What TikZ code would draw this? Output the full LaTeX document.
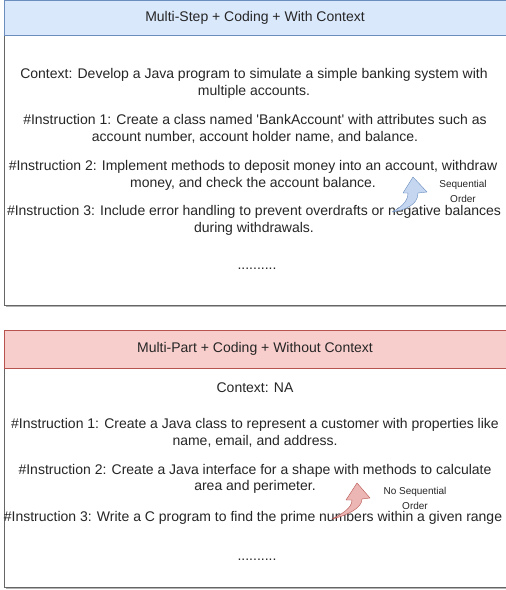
\documentclass[tikz,border=0pt]{standalone}
\usepackage{fontspec}
\setmainfont{Liberation Sans}
\definecolor{hdrblue}{HTML}{DAE8FC}
\definecolor{lineblue}{HTML}{6C8EBF}
\definecolor{hdrred}{HTML}{F8CECC}
\definecolor{linered}{HTML}{B85450}
\definecolor{boxgray}{HTML}{666666}
\begin{document}
\begin{tikzpicture}[x=1pt,y=-1pt,
  body/.style={font=\fontsize{14}{16.5}\selectfont, align=center, text=black!85, inner sep=0pt},
  side/.style={font=\fontsize{10}{14.5}\selectfont, align=center, text=black!85, inner sep=0pt},
  shade/.style={fill=black!30, draw=none}]
  \useasboundingbox (0,0) rectangle (506,590);
  \clip (0,0) rectangle (506,590);

  % Top box
  \fill[shade] (6,37) rectangle (512,307);
  \draw[boxgray, fill=white] (4,35) rectangle (510,305);
  \draw[lineblue, fill=hdrblue] (4,0.5) rectangle (510,35);
  \node[body] (hdrA) at (255,17.5) {Multi-Step + Coding + With Context};

  \node[body] (ctxA) at (254,83.5) {Context: Develop a Java program to simulate a simple banking system with\\multiple accounts.};
  \node[body] (insA1) at (255,129) {\#Instruction 1: Create a class named \textquotesingle BankAccount\textquotesingle{} with attributes such as\\account number, account holder name, and balance.};
  \node[body] (insA2) at (253,175.5) {\#Instruction 2: Implement methods to deposit money into an account, withdraw\\money, and check the account balance.};
  \node[body] (insA3) at (254,220.5) {\#Instruction 3: Include error handling to prevent overdrafts or negative balances\\during withdrawals.};
  \node[body] (dotsA) at (257,269) {..........};

  % Sequential arrow
  \draw[lineblue, fill=hdrblue!80!lineblue, line join=round]
    (392,212) .. controls (405,210) and (418,205) .. (418,193)
    -- (427,192) -- (413,177) -- (403,193) -- (408,193)
    .. controls (408,202) and (400,208) .. (392,212) -- cycle;
  \node[side] (seqA) at (463,191.5) {Sequential\\Order};

  % Bottom box
  \fill[shade] (6,370) rectangle (512,589);
  \draw[boxgray, fill=white] (4,368) rectangle (510,587);
  \draw[linered, fill=hdrred] (4,330) rectangle (510,368);
  \node[body] (hdrB) at (255,349) {Multi-Part + Coding + Without Context};

  \node[body] (ctxB) at (255,388) {Context: NA};
  \node[body] (insB1) at (255,433) {\#Instruction 1: Create a Java class to represent a customer with properties like\\name, email, and address.};
  \node[body] (insB2) at (255,479) {\#Instruction 2: Create a Java interface for a shape with methods to calculate\\area and perimeter.};
  \node[body] (insB3) at (253,517.5) {\#Instruction 3: Write a C program to find the prime numbers within a given range};
  \node[body] (dotsB) at (257,560) {..........};

  % No sequential arrow
  \draw[linered, fill=hdrred!80!linered, line join=round]
    (332,519) .. controls (348,515) and (362,508) .. (362,499)
    -- (370,498) -- (357,483) -- (346,500) -- (352,500)
    .. controls (352,508) and (342,514) .. (332,519) -- cycle;
  \node[side] (seqB) at (415,498.5) {No Sequential\\Order};
\end{tikzpicture}
\end{document}
